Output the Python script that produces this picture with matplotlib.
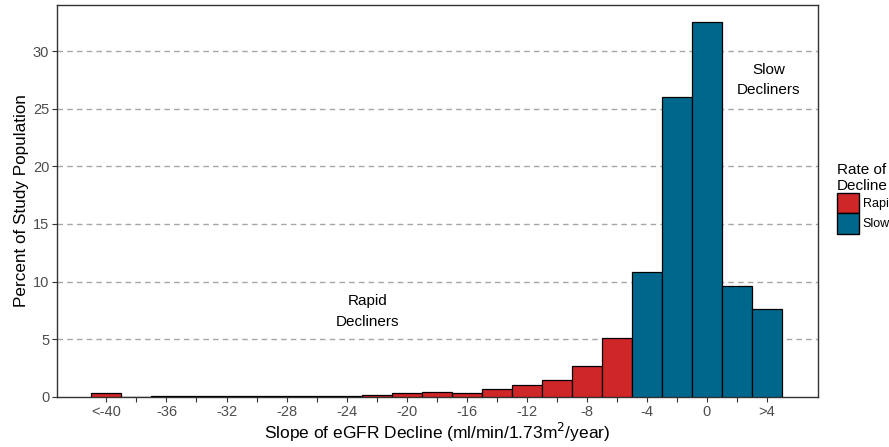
import matplotlib.pyplot as plt
from matplotlib.patches import Patch

plt.rcParams['font.family'] = ['Liberation Sans', 'DejaVu Sans']

# bin centers (width 2) and percent of population
centers = [-40, -38, -36, -34, -32, -30, -28, -26, -24, -22, -20, -18, -16, -14, -12, -10, -8, -6, -4, -2, 0, 2, 4]
percent = [0.3, 0.03, 0.04, 0.05, 0.06, 0.1, 0.05, 0.06, 0.12, 0.2, 0.3, 0.42, 0.35, 0.65, 1.05, 1.45, 2.65, 5.15, 10.8, 26.0, 32.5, 9.6, 7.6]
group = ["Rapid"] * 18 + ["Slow"] * 5

tick_pos = [-40, -36, -32, -28, -24, -20, -16, -12, -8, -4, 0, 4]
tick_lab = ["<-40", "-36", "-32", "-28", "-24", "-20", "-16", "-12", "-8", "-4", "0", ">4"]

colors = {"Rapid": "#CF2628", "Slow": "#00678C"}

fig = plt.figure(figsize=(8.89, 4.47), dpi=100)
ax = fig.add_axes([0.064, 0.112, 0.856, 0.877])

ax.bar(centers, percent, width=2, color=[colors[g] for g in group],
       edgecolor="black", linewidth=0.9, zorder=3)

ax.set_xlim(-43.3, 7.4)
ax.set_ylim(0, 34)
ax.set_yticks([0, 5, 10, 15, 20, 25, 30])
ax.set_xticks(tick_pos)
ax.set_xticklabels(tick_lab)
ax.set_xticks(range(-40, 6, 2), minor=True)
ax.tick_params(axis="both", which="both", direction="out", length=3.5, width=0.8,
               colors="#333333", labelcolor="#4D4D4D", labelsize=10.5, pad=2)

for y in [5, 10, 15, 20, 25, 30]:
    ax.axhline(y, color="#A6A6A6", linestyle=(0, (4, 3)), linewidth=1, zorder=1)

for s in ax.spines.values():
    s.set_color("#333333")
    s.set_linewidth(1)

ax.set_xlabel("Slope of eGFR Decline (ml/min/1.73m$^2$/year)", fontsize=12.5, labelpad=2)
ax.set_ylabel("Percent of Study Population", fontsize=12.3, labelpad=3)

ax.text(4.1, 27.5, "Slow\nDecliners", ha="center", va="center", fontsize=11, linespacing=1.6)
ax.text(-22.6, 7.4, "Rapid\nDecliners", ha="center", va="center", fontsize=11, linespacing=1.6)

handles = [Patch(facecolor=colors["Rapid"], edgecolor="black", label="Rapid"),
           Patch(facecolor=colors["Slow"], edgecolor="black", label="Slow")]
leg = fig.legend(handles=handles, title="Rate of\nDecline", loc="upper left",
                 bbox_to_anchor=(0.941, 0.635), frameon=False, fontsize=9,
                 title_fontsize=11, handlelength=1.8, handleheight=2.1,
                 handletextpad=0.3, labelspacing=0.0, borderpad=0, borderaxespad=0)
leg._legend_box.align = "left"

fig.savefig("out.png", dpi=100)
